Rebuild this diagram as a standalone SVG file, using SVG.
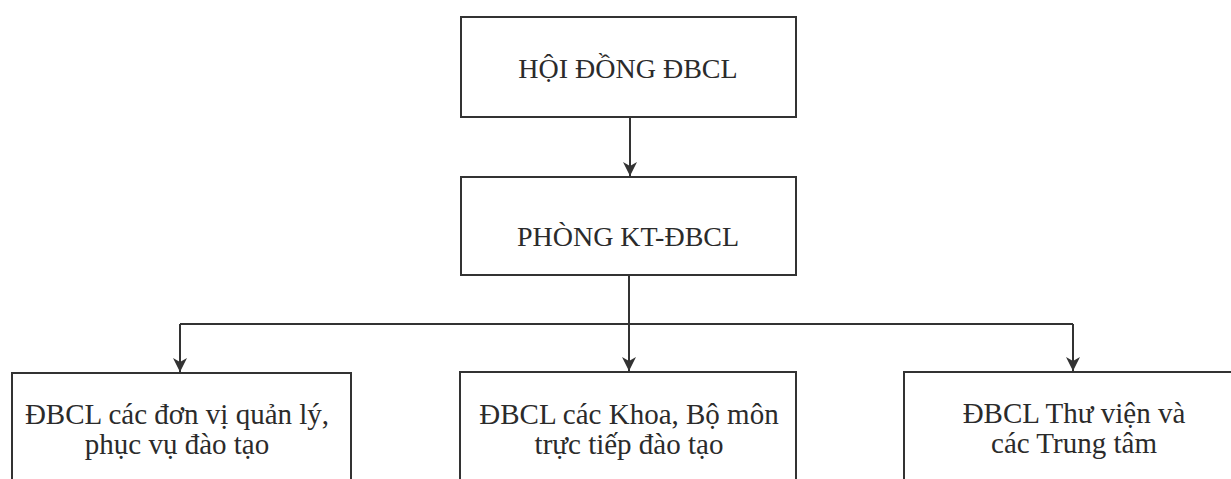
<svg xmlns="http://www.w3.org/2000/svg" width="1231" height="479" viewBox="0 0 1231 479">
<style>
.box{fill:#fff;stroke:#333;stroke-width:2}
.lbl{font-family:"Liberation Serif","Times New Roman",serif;fill:#2b2b2b;text-anchor:middle}
.t1{font-size:28px}
.t2{font-size:29px}
.con{fill:none;stroke:#333;stroke-width:2}
</style>
<defs>
<marker id="dn" markerUnits="userSpaceOnUse" markerWidth="16" markerHeight="16" viewBox="0 0 16 16" refX="8" refY="15" orient="0">
<path d="M1,1 L8,15 L15,1 L8,5 Z" fill="#333"/>
</marker>
</defs>
<rect width="1231" height="479" fill="#fff"/>
<g id="n-hoidong">
<rect class="box" x="461" y="17" width="335" height="100"/>
<text class="lbl t1" x="628" y="78">HỘI ĐỒNG ĐBCL</text>
</g>
<g id="n-phong">
<rect class="box" x="461" y="177" width="335" height="98"/>
<text class="lbl t1" x="628" y="246">PHÒNG KT-ĐBCL</text>
</g>
<g id="n-quanly">
<rect class="box" x="12" y="373" width="339" height="130"/>
<text class="lbl t2" x="177" y="424">ĐBCL các đơn vị quản lý,</text>
<text class="lbl t2" x="177" y="454">phục vụ đào tạo</text>
</g>
<g id="n-khoa">
<rect class="box" x="460" y="372" width="336" height="130"/>
<text class="lbl t2" x="629" y="424">ĐBCL các Khoa, Bộ môn</text>
<text class="lbl t2" x="629" y="454">trực tiếp đào tạo</text>
</g>
<g id="n-thuvien">
<rect class="box" x="904" y="372" width="340" height="130"/>
<text class="lbl t2" x="1074" y="423">ĐBCL Thư viện và</text>
<text class="lbl t2" x="1074" y="453">các Trung tâm</text>
</g>
<g id="connectors">
<line class="con" x1="630" y1="117" x2="630" y2="176" marker-end="url(#dn)"/>
<line class="con" x1="629" y1="275" x2="629" y2="324"/>
<line class="con" x1="180" y1="324" x2="1073" y2="324"/>
<line class="con" x1="180" y1="324" x2="180" y2="372" marker-end="url(#dn)"/>
<line class="con" x1="629" y1="324" x2="629" y2="371" marker-end="url(#dn)"/>
<line class="con" x1="1073" y1="324" x2="1073" y2="371" marker-end="url(#dn)"/>
</g>
</svg>
